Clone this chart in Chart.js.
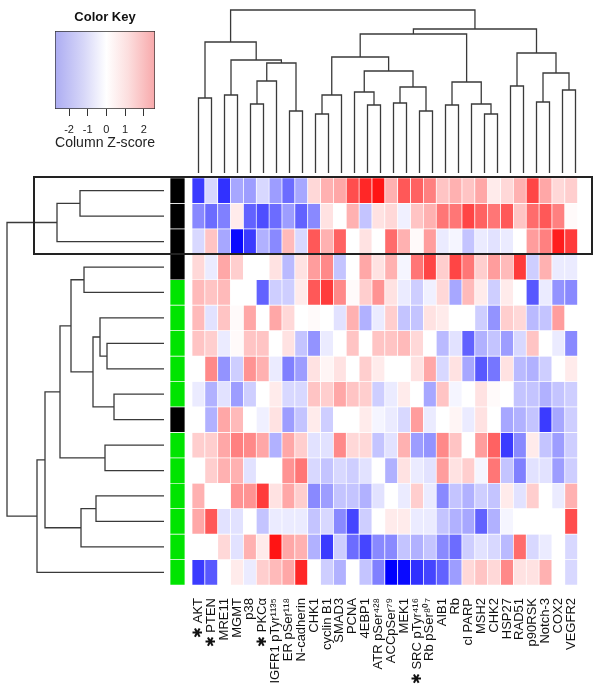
<!DOCTYPE html>
<html>
<head>
<meta charset="utf-8">
<script src="https://cdn.jsdelivr.net/npm/chart.js@4.4.1/dist/chart.umd.min.js"></script>
<style>
  html, body { margin: 0; padding: 0; background: #fff; }
  #wrap { position: relative; width: 602px; height: 685px; overflow: hidden; }
  #wrap canvas { position: absolute; }
  #box { position: absolute; left: 33px; top: 176px; width: 560px; height: 79px;
         border: 2px solid #222; box-sizing: border-box; pointer-events: none; }
</style>
</head>
<body>
<div id="wrap">
  <canvas id="key" width="190" height="152" style="left:0;top:0"></canvas>
  <canvas id="colDendro" width="390" height="173" style="left:192px;top:0"></canvas>
  <canvas id="rowDendro" width="164" height="407" style="left:0;top:178px"></canvas>
  <canvas id="sideBar" width="25" height="407" style="left:165px;top:178px"></canvas>
  <canvas id="heat" width="410" height="507" style="left:182px;top:178px"></canvas>
  <div id="box"></div>
</div>
<script>
// column labels, in dendrogram order
const columns = ['✱ AKT', '✱ PTEN', 'MRE11', 'MGMT', 'p38', '✱ PKCα', 'IGFR1 pTyr¹¹³⁵', 'ER pSer¹¹⁸',
  'N-cadherin', 'CHK1', 'cyclin B1', 'SMAD3', 'PCNA', '4EBP1', 'ATR pSer⁴²⁸', 'ACCpSer⁷⁹', 'MEK1',
  '✱ SRC pTyr⁴¹⁶', 'Rb pSer⁸⁰⁷', 'AIB1', 'Rb', 'cl PARP', 'MSH2', 'CHK2', 'HSP27', 'RAD51', 'p90RSK',
  'Notch-3', 'COX2', 'VEGFR2'];

// side colour bar: 1 = black, 0 = green
const rowGroup = [1, 1, 1, 1, 0, 0, 0, 0, 0, 1, 0, 0, 0, 0, 0, 0];

// column z-scores, one list per sample row (top to bottom)
const zScores = [
  [-2.0, -0.4, -2.1, -0.9, -1.0, -0.4, -1.0, -1.5, -0.9, 0.4, 0.8, 0.9, 1.8, 2.2, 2.4, 0.8, 1.7, 1.6, 1.3, 0.6, 0.8, 0.6, 0.9, 0.2, 0.4, 0.8, 1.9, 0.9, 0.4, 0.5],
  [-1.2, -1.5, -1.3, 0.2, -1.6, -1.8, -1.5, -1.0, -1.6, -1.2, 0.3, 0.0, 0.8, -0.6, 0.3, 0.4, -0.15, 0.6, 0.8, 1.4, 1.4, 1.9, 1.6, 1.4, 1.7, 0.6, 1.5, 1.7, 1.3, 0.05],
  [-0.4, 0.6, -0.9, -2.5, -2.0, -0.8, -1.2, 0.7, -0.4, 1.7, 0.8, 1.6, 0.0, 0.3, 0.0, 1.5, 0.8, 0.05, 1.0, -0.2, -0.1, -0.6, -0.2, -0.3, -0.2, 0.0, 1.0, 1.3, 2.3, 2.0],
  [0.4, -0.2, 0.9, 0.5, 0.0, 0.0, 0.3, -0.7, 0.3, 1.0, 1.2, -0.6, 0.0, 0.9, 0.3, 0.8, -0.1, 1.4, 1.9, 0.5, 1.9, 1.4, 0.5, 1.0, 0.7, 2.0, -0.5, 0.8, -0.2, -0.2],
  [0.7, 0.6, 0.7, 0.0, 0.0, -1.6, -0.5, -0.5, 0.2, 1.7, 2.0, 1.2, 0.05, 0.5, 1.1, 0.3, -0.2, -0.5, -0.15, 0.4, -0.9, 0.7, 0.2, -0.5, 0.2, 0.0, -1.7, -0.2, -1.1, -1.2],
  [0.7, -0.3, 0.6, 0.05, 0.9, 0.0, 0.9, 0.4, 0.0, 0.05, 0.0, -0.3, 0.8, -0.8, -0.2, 0.5, -0.6, -0.6, 0.3, 0.2, 0.0, 0.0, -0.5, -1.1, 0.5, 0.4, -0.7, -0.6, 1.0, 0.0],
  [0.6, 0.5, -0.2, 0.05, 0.6, 0.6, 0.0, 0.3, -0.6, -1.1, -0.2, 0.0, 0.6, 0.0, 0.6, 0.6, 0.7, 0.4, 0.0, -0.7, -0.3, -1.6, -0.8, -0.6, -1.0, -0.4, 0.6, 0.0, -0.2, -1.2],
  [0.0, 1.2, -1.1, -0.5, 1.1, 0.8, -0.2, -1.3, -1.0, 0.3, 0.1, 0.3, 0.0, 0.5, 0.2, 0.0, 0.0, 0.3, 0.9, -0.4, 0.3, -0.9, -1.7, -1.4, 0.3, -0.7, -0.8, -0.5, 0.0, 0.2],
  [-0.2, -0.8, -0.3, -1.0, -0.5, 0.0, 0.2, -0.4, -0.4, 0.6, 0.5, 0.9, 0.6, 0.5, -0.5, -0.2, 0.2, 0.0, -0.9, 0.6, -0.1, 0.0, 0.3, 0.05, 0.0, -0.6, -0.6, -0.8, -0.6, -0.5],
  [0.0, -0.8, 0.9, 0.7, 0.0, -0.15, 0.3, -1.0, -0.6, 0.2, -0.5, 0.0, 0.0, 0.2, -0.1, -0.2, -0.4, 1.0, -0.2, 0.0, 0.1, -0.2, 0.3, 0.0, -0.9, -0.8, -0.6, -2.0, -0.9, -0.5],
  [0.5, 0.5, 0.9, 1.3, 1.2, 0.9, -0.8, 0.9, 0.5, -0.3, -0.3, 1.2, 0.4, 0.4, -0.6, -0.3, 0.8, -1.0, -1.1, 1.2, 0.6, 0.0, 1.0, 1.6, -2.0, -1.2, 0.2, -0.6, -1.0, -0.5],
  [0.0, 0.5, 0.8, 0.8, -0.3, 0.0, 0.0, 1.1, 1.4, -0.4, -0.6, -0.4, -0.5, -0.3, 0.0, -0.8, 0.3, -0.2, -0.3, 1.0, 0.3, 0.5, -0.1, 1.4, -0.6, -1.3, -0.3, -0.3, -1.0, -0.5],
  [0.8, 0.0, 0.0, 1.1, 1.1, 2.0, 0.3, 0.9, 0.5, -1.2, -1.0, -0.6, -0.6, -0.8, -0.3, 0.0, -0.2, 0.5, -0.2, -1.2, -0.6, -0.8, -0.5, -0.6, 0.2, -0.3, 0.5, 0.0, -0.2, 0.8],
  [0.9, 1.7, -0.3, -0.3, 0.0, -0.6, -0.2, -0.2, -0.2, -0.6, -0.4, -1.2, -1.9, -0.5, 0.0, 0.2, 0.2, -0.2, -0.2, -0.6, -0.8, -0.9, -1.6, -0.8, -0.1, 0.0, 0.0, 0.0, 0.0, 1.8],
  [0.0, 0.0, 0.4, -0.3, 0.8, 0.2, 2.4, 0.9, 0.8, -0.8, -2.0, -0.5, -1.5, -1.9, -1.2, -1.2, -0.6, -0.8, -0.6, -1.2, -1.5, -0.5, -0.3, -0.4, -0.7, 1.5, -0.4, -0.2, 0.0, -0.4],
  [-2.0, -1.7, 0.0, 0.2, -0.2, 0.5, 0.7, 0.9, 2.2, 0.0, -0.5, -0.8, 0.0, -0.6, -1.3, -2.6, -2.5, -2.1, -1.9, -1.6, -1.0, 0.4, 0.6, 0.4, 1.2, 0.3, 0.3, 0.8, 0.0, -0.4]
];

// column dendrogram (hclust style: negative = leaf, positive = earlier merge)
const colMerge = [[-23, -24], [-10, -11], [-18, -19], [-8, -9], [-14, -15], [-20, -21], [-5, -6],
  [-22, 1], [-16, -17], [-27, -28], [-1, -2], [-3, -4], [2, -12], [-13, 5], [-29, -30], [9, 3],
  [-25, -26], [6, 8], [7, -7], [10, 15], [14, 16], [19, 4], [12, 22], [13, 21], [17, 20], [11, 23],
  [24, 18], [27, 25], [26, 28]];
const colHeight = [59, 59, 62, 62, 68, 68, 69, 69, 70, 71, 75, 78, 78, 81, 83, 86, 87, 91, 92, 100,
  102, 110, 113, 116, 120, 131, 139, 144, 163];

// row dendrogram
const rowMerge = [[-9, -10], [-7, -8], [-11, -12], [-6, 2], [-13, -14], [4, 1], [-4, -5], [5, -15],
  [-1, -2], [7, 6], [10, 3], [9, -3], [11, 8], [13, -16], [12, 14]];
const rowHeight = [50, 57, 59, 64, 68, 71, 80, 83, 84, 93, 104, 107, 119, 127, 157];

const keyMin = -2.75, keyMax = 2.6;
const keyTicks = [-2, -1, 0, 1, 2];
const zMax = 2.6;

const FONT = "'Liberation Sans', Arial, sans-serif";
Chart.defaults.font.family = FONT;
Chart.defaults.animation = false;
Chart.defaults.responsive = false;
Chart.defaults.devicePixelRatio = 1;
Chart.defaults.plugins.legend.display = false;
Chart.defaults.plugins.tooltip.enabled = false;

function zColor(v) {
  const t = Math.min(Math.abs(v) / zMax, 1);
  const c = Math.round(255 * (1 - t));
  return v < 0 ? `rgb(${c},${c},255)` : `rgb(255,${c},${c})`;
}

function dendroSegments(merge, height) {
  const pos = [], hgt = [], segs = [];
  const where = k => k < 0 ? [-k - 1, 0] : [pos[k - 1], hgt[k - 1]];
  merge.forEach((m, i) => {
    const [pa, ha] = where(m[0]);
    const [pb, hb] = where(m[1]);
    const h = height[i];
    pos.push((pa + pb) / 2);
    hgt.push(h);
    segs.push([[pa, ha], [pa, h], [pb, h], [pb, hb]]);
  });
  return segs;
}

function dendroChart(id, segs, sideways, scales) {
  return new Chart(document.getElementById(id), {
    type: 'scatter',
    data: {
      datasets: segs.map(s => ({
        data: s.map(([p, h]) => sideways ? { x: h, y: p } : { x: p, y: h }),
        showLine: true,
        borderColor: '#3a3a3a',
        borderWidth: 1.3,
        pointRadius: 0,
        tension: 0,
        clip: false
      }))
    },
    options: { layout: { padding: 0 }, scales: scales }
  });
}

dendroChart('colDendro', dendroSegments(colMerge, colHeight), false, {
  x: { type: 'linear', min: -0.5, max: columns.length - 0.5, display: false },
  y: { type: 'linear', min: 0, max: 173, display: false }
});

dendroChart('rowDendro', dendroSegments(rowMerge, rowHeight), true, {
  x: { type: 'linear', min: 0, max: 164, reverse: true, display: false },
  y: { type: 'linear', min: -0.5, max: zScores.length - 0.5, reverse: true, display: false }
});

// heatmap cells as floating bars, one dataset per row
new Chart(document.getElementById('heat'), {
  type: 'bar',
  data: {
    labels: columns,
    datasets: zScores.map((row, r) => ({
      data: row.map(() => [r - 0.5, r + 0.5]),
      backgroundColor: row.map(zColor),
      borderColor: '#ffffff',
      borderWidth: 0.7,
      borderSkipped: false,
      grouped: false,
      barPercentage: 1,
      categoryPercentage: 1
    }))
  },
  options: {
    layout: { padding: { left: 10, right: 10, top: 0, bottom: 0 } },
    scales: {
      x: {
        grid: { display: false },
        border: { display: false },
        ticks: {
          minRotation: 90, maxRotation: 90, autoSkip: false, padding: 5,
          color: '#111', font: { family: FONT, size: 13 }
        },
        afterFit: s => { s.height = 100; }
      },
      y: { type: 'linear', min: -0.5, max: zScores.length - 0.5, reverse: true, display: false }
    }
  }
});

// side colour bar
new Chart(document.getElementById('sideBar'), {
  type: 'bar',
  data: {
    labels: [''],
    datasets: rowGroup.map((g, r) => ({
      data: [[r - 0.5, r + 0.5]],
      backgroundColor: g ? '#000000' : '#00e400',
      borderColor: '#ffffff',
      borderWidth: 0.7,
      borderSkipped: false,
      grouped: false,
      barPercentage: 1,
      categoryPercentage: 1
    }))
  },
  options: {
    layout: { padding: { left: 5, right: 5 } },
    scales: {
      x: { display: false },
      y: { type: 'linear', min: -0.5, max: rowGroup.length - 0.5, reverse: true, display: false }
    }
  }
});

// colour key
new Chart(document.getElementById('key'), {
  type: 'bar',
  data: {
    labels: [''],
    datasets: [{
      data: [[keyMin, keyMax]],
      backgroundColor: ctx => {
        const chart = ctx.chart;
        if (!chart.chartArea) return '#fff';
        const x = chart.scales.x;
        const g = chart.ctx.createLinearGradient(x.getPixelForValue(keyMin), 0, x.getPixelForValue(keyMax), 0);
        const p0 = (0 - keyMin) / (keyMax - keyMin);
        g.addColorStop(0, 'rgb(172,172,242)');
        g.addColorStop(p0 * 0.55, 'rgb(214,214,248)');
        g.addColorStop(p0, 'rgb(255,255,255)');
        g.addColorStop(p0 + (1 - p0) * 0.45, 'rgb(252,222,222)');
        g.addColorStop(1, 'rgb(248,168,170)');
        return g;
      },
      borderColor: '#333',
      borderWidth: 1,
      borderSkipped: false,
      barPercentage: 1,
      categoryPercentage: 1
    }]
  },
  options: {
    indexAxis: 'y',
    layout: { padding: { left: 55, right: 35, top: 0, bottom: 0 } },
    plugins: {
      title: {
        display: true, text: 'Color Key', fullSize: false, color: '#111',
        font: { family: FONT, size: 13, weight: 'bold' },
        padding: { top: 10, bottom: 5.4 }
      }
    },
    scales: {
      x: {
        type: 'linear', min: keyMin, max: keyMax,
        grid: { drawOnChartArea: false, tickLength: 7, color: '#333' },
        border: { display: false },
        afterBuildTicks: s => { s.ticks = keyTicks.map(v => ({ value: v })); },
        ticks: { padding: 7, color: '#222', font: { family: FONT, size: 11 } },
        title: {
          display: true, text: 'Column Z-score', color: '#222',
          font: { family: FONT, size: 15 }, padding: { top: 0, bottom: 0 }
        },
        afterFit: s => { s.height = 43; }
      },
      y: { display: false }
    }
  }
});
</script>
</body>
</html>
